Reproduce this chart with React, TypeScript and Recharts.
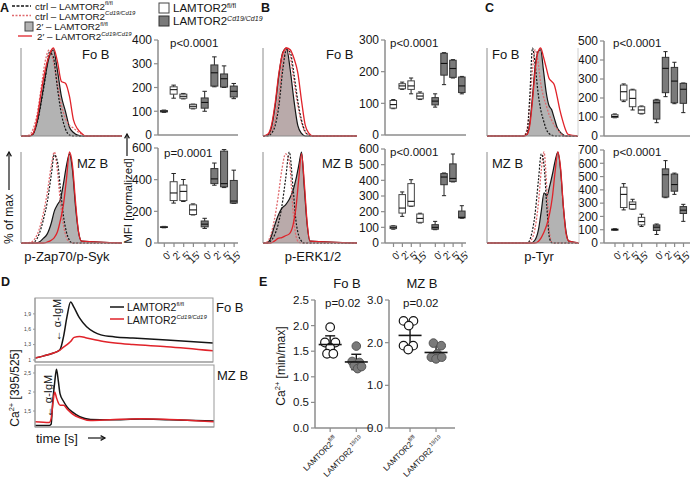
import React from 'react';
import {
  ComposedChart, LineChart, ScatterChart, Line, Area, Bar, Scatter, ErrorBar, XAxis, YAxis,
} from 'recharts';

const FONT = '"Liberation Sans", Arial, Helvetica, sans-serif';
const INK = '#151515';
const RED = '#e0232a';
const RED_DOT = '#e06a6e';
const AXIS = '#8c8c8c';
const GRAY_FILL = '#b3b3b3';
const PINK_FILL = '#b9aaaa';
const KO_FILL = '#7a7a7a';

// ---------------- Histograms (x: % of plot width, y: % of max) ----------------
const histXTicks = [0, 10, 20, 30, 40, 50, 60, 70, 80, 90, 100];
const histYTicks = [0, 20, 40, 60, 80, 100];

const hAFoX = [0, 8, 12, 16, 20, 24, 28, 32, 36, 40, 44, 48, 52, 56, 60, 64, 100];
const hAFoCtrlWT = [0, 0, 3, 15, 38, 65, 95, 90, 55, 25, 8, 1, 0, 0, 0, 0, 0];
const hAFoCtrlKO = [0, 1, 8, 25, 55, 85, 98, 85, 60, 35, 20, 12, 9, 5, 2, 0, 0];
const hAFoWT2 = [0, 0, 2, 16, 40, 68, 90, 98, 75, 45, 28, 10, 4, 1, 0, 0, 0];
const hAFoKO2 = [0, 0, 3, 20, 50, 75, 92, 100, 85, 62, 60, 45, 18, 8, 3, 0, 0];

const hAMzX = [0, 10, 14, 18, 22, 26, 30, 33, 36, 39, 42, 45, 48, 51, 54, 57, 60, 100];
const hAMzCtrlWT = [0, 0, 2, 10, 25, 45, 75, 97, 90, 60, 30, 12, 3, 0, 0, 0, 0, 0];
const hAMzCtrlKO = [0, 1, 5, 15, 32, 55, 85, 100, 80, 45, 20, 6, 1, 0, 0, 0, 0, 0];
const hAMzWT2 = [0, 0, 0, 1, 5, 10, 22, 35, 42, 48, 65, 85, 98, 80, 40, 12, 2, 0];
const hAMzKO2 = [0, 0, 0, 0, 0, 1, 3, 6, 12, 25, 42, 70, 100, 85, 45, 12, 2, 0];

const hBFoX = [0, 5, 9, 13, 17, 21, 25, 29, 33, 37, 41, 45, 49, 53, 100];
const hBFoCtrlWT = [0, 0, 3, 12, 35, 75, 98, 95, 70, 40, 18, 5, 1, 0, 0];
const hBFoCtrlKO = [0, 1, 5, 18, 45, 82, 100, 90, 62, 35, 15, 4, 1, 0, 0];
const hBFoWT2 = [0, 1, 10, 35, 70, 95, 100, 75, 40, 12, 3, 0, 0, 0, 0];
const hBFoKO2 = [0, 2, 12, 38, 72, 94, 100, 98, 88, 72, 40, 12, 3, 0, 0];

const hBMzX = [0, 4, 8, 12, 16, 20, 24, 28, 32, 35, 38, 41, 44, 47, 50, 100];
const hBMzCtrlWT = [0, 0, 2, 8, 20, 40, 70, 100, 60, 25, 8, 2, 0, 0, 0, 0];
const hBMzCtrlKO = [0, 1, 8, 25, 50, 80, 98, 90, 35, 8, 1, 0, 0, 0, 0, 0];
const hBMzWT2 = [0, 0, 5, 18, 30, 38, 42, 48, 58, 70, 85, 100, 60, 20, 2, 0];
const hBMzKO2 = [0, 0, 0, 2, 5, 6, 8, 10, 20, 38, 70, 98, 65, 22, 2, 0];

const hCFoX = [0, 40, 44, 47, 50, 53, 56, 59, 62, 65, 68, 71, 74, 77, 80, 83, 86, 89, 100];
const hCFoCtrlWT = [0, 0, 5, 45, 100, 80, 50, 30, 18, 8, 3, 1, 0, 0, 0, 0, 0, 0, 0];
const hCFoCtrlKO = [0, 0, 8, 35, 75, 98, 85, 60, 45, 35, 25, 18, 12, 8, 4, 1, 0, 0, 0];
const hCFoWT2 = [0, 0, 2, 15, 45, 80, 96, 98, 75, 50, 35, 30, 20, 10, 5, 2, 0, 0, 0];
const hCFoKO2 = [0, 0, 2, 12, 40, 75, 95, 100, 90, 78, 66, 62, 58, 45, 30, 18, 8, 2, 0];

const hCMzX = [0, 44, 48, 52, 56, 59, 62, 65, 68, 71, 74, 77, 80, 83, 86, 89, 100];
const hCMzCtrlWT = [0, 0, 8, 30, 70, 98, 85, 40, 5, 0, 0, 0, 0, 0, 0, 0, 0];
const hCMzCtrlKO = [0, 0, 3, 15, 45, 80, 100, 60, 10, 0, 0, 0, 0, 0, 0, 0, 0];
const hCMzWT2 = [0, 0, 0, 3, 15, 35, 55, 52, 62, 75, 90, 100, 80, 40, 12, 2, 0];
const hCMzKO2 = [0, 0, 0, 0, 2, 6, 12, 20, 32, 50, 78, 100, 82, 40, 10, 2, 0];

// ---------------- Box plots ----------------
const timeLabels = ["0'", "2'", "5'", "15'", "0'", "2'", "5'", "15'"];
const boxPosA = [0, 1, 2, 3, 4.2, 5.2, 6.2, 7.2];
const boxPosBC = [0, 1, 2, 3, 4.7, 5.7, 6.7, 7.7];

const aFoMin = [95, 155, 152, 110, 100, 203, 200, 153];
const aFoQ1 = [97, 172, 155, 113, 113, 206, 202, 160];
const aFoMed = [100, 191, 163, 121, 137, 262, 237, 184];
const aFoQ3 = [103, 203, 172, 129, 156, 295, 257, 206];
const aFoMax = [105, 210, 175, 130, 184, 329, 291, 217];

const aMzMin = [96, 252, 262, 177, 92, 365, 350, 250];
const aMzQ1 = [98, 268, 268, 180, 102, 375, 355, 252];
const aMzMed = [100, 316, 326, 209, 119, 405, 375, 265];
const aMzQ3 = [103, 387, 366, 241, 139, 470, 580, 395];
const aMzMax = [105, 439, 401, 247, 156, 505, 590, 460];

const bFoMin = [83, 144, 130, 112, 88, 159, 180, 130];
const bFoQ1 = [85, 146, 144, 114, 95, 189, 182, 134];
const bFoMed = [96, 155, 155, 123, 107, 226, 210, 155];
const bFoQ3 = [109, 162, 171, 132, 118, 258, 236, 183];
const bFoMax = [112, 167, 180, 136, 130, 260, 238, 185];

const bMzMin = [88, 170, 234, 128, 85, 302, 390, 158];
const bMzQ1 = [92, 191, 236, 132, 88, 372, 392, 160];
const bMzMed = [100, 223, 266, 157, 100, 421, 412, 164];
const bMzQ3 = [108, 309, 379, 185, 117, 443, 505, 204];
const bMzMax = [110, 326, 404, 190, 138, 447, 568, 238];

const cFoMin = [96, 181, 137, 116, 70, 207, 170, 123];
const cFoQ1 = [98, 189, 154, 119, 89, 228, 175, 172];
const cFoMed = [103, 233, 198, 137, 175, 356, 289, 246];
const cFoQ3 = [112, 268, 242, 154, 189, 414, 361, 277];
const cFoMax = [116, 274, 246, 158, 193, 444, 388, 279];

const cMzMin = [94, 249, 254, 124, 64, 341, 366, 163];
const cMzQ1 = [96, 267, 256, 136, 94, 346, 390, 222];
const cMzMed = [101, 366, 291, 161, 119, 514, 440, 247];
const cMzQ3 = [105, 420, 309, 193, 136, 558, 519, 274];
const cMzMax = [108, 447, 329, 217, 143, 620, 526, 291];

// ---------------- Ca traces (D) ----------------
const caXTicks = [0, 5.6, 11.1, 16.7, 22.2, 27.8, 33.3, 38.9, 44.4, 50, 55.6, 61.1, 66.7, 72.2, 77.8, 83.3, 88.9, 94.4, 100];
const caFoT = [0, 5, 10, 14, 16, 18, 20, 22, 25, 29, 33, 37, 45, 55, 74, 100];
const caFoWT = [1.04, 1.08, 1.13, 1.2, 1.45, 1.85, 2.13, 2.02, 1.82, 1.65, 1.55, 1.49, 1.45, 1.43, 1.39, 1.33];
const caFoKO = [1.04, 1.08, 1.13, 1.19, 1.25, 1.3, 1.36, 1.44, 1.46, 1.43, 1.4, 1.37, 1.33, 1.3, 1.26, 1.18];
const caFoTicks = [1, 1.3, 1.6, 1.9];

const caMzT = [0, 8, 9, 10, 11, 12, 13, 14, 16, 18, 21, 25, 31, 42, 59, 75, 100];
const caMzWT = [1.12, 1.12, 1.15, 1.8, 2.25, 2.6, 2.3, 1.95, 1.75, 1.6, 1.47, 1.35, 1.28, 1.27, 1.29, 1.27, 1.24];
const caMzKO = [1.22, 1.2, 1.3, 1.7, 2.0, 1.85, 1.72, 1.65, 1.65, 1.55, 1.42, 1.32, 1.25, 1.27, 1.3, 1.28, 1.22];
const caMzTicks = [1.5, 2, 2.5];

// ---------------- Ca min/max (E) ----------------
const eFoWTy = [1.97, 1.67, 1.67, 1.57, 1.45, 1.45];
const eFoWTx = [1.0, 0.8, 1.2, 1.0, 0.88, 1.12];
const eFoKOy = [1.6, 1.3, 1.28, 1.22, 1.16, 1.2];
const eFoKOx = [2.0, 1.84, 2.12, 1.92, 2.05, 2.2];
const eFoMean = [1.63, 1.29];
const eFoErr = [0.17, 0.15];
const eFoTicks = [0, 0.5, 1, 1.5, 2, 2.5];

const eMzWTy = [2.51, 2.51, 2.4, 1.93, 1.93, 1.84];
const eMzWTx = [0.75, 1.13, 0.95, 0.75, 1.12, 0.93];
const eMzKOy = [1.99, 1.93, 1.74, 1.66, 1.62, 1.66];
const eMzKOx = [1.9, 2.2, 2.05, 1.82, 2.0, 2.22];
const eMzMean = [2.17, 1.77];
const eMzErr = [0.3, 0.16];
const eMzTicks = [0, 1, 2, 3];

// ======================================================================
type Rect = { l: number; t: number; r: number; b: number };

function Histogram(props: {
  rect: Rect; xs: number[]; cw: number[]; ck: number[]; w2: number[]; k2: number[]; fill: string;
}) {
  const { rect, xs, cw, ck, w2, k2, fill } = props;
  const ml = 6, mt = 2, mr = 2, mb = 6;
  const W = rect.r - rect.l + ml + mr;
  const H = rect.b - rect.t + mt + mb;
  const data = xs.map((x, i) => ({ x, cw: cw[i], ck: ck[i], w2: w2[i], k2: k2[i] }));
  return (
    <div style={{ position: 'absolute', left: rect.l - ml, top: rect.t - mt }}>
      <ComposedChart width={W} height={H} data={data} margin={{ top: mt, right: mr, bottom: 0, left: 0 }}>
        <XAxis dataKey="x" type="number" domain={[0, 100]} ticks={histXTicks} tick={false} tickSize={3}
          height={mb} axisLine={{ stroke: AXIS }} tickLine={{ stroke: AXIS }} interval={0} />
        <YAxis type="number" domain={[0, 100]} ticks={histYTicks} tick={false} tickSize={3} width={ml}
          axisLine={{ stroke: AXIS }} tickLine={{ stroke: AXIS }} interval={0} />
        <Area type="monotone" dataKey="w2" stroke={INK} strokeWidth={1.2} fill={fill} fillOpacity={1}
          dot={false} activeDot={false} isAnimationActive={false} />
        <Line type="monotone" dataKey="ck" stroke={RED_DOT} strokeWidth={1.3} strokeDasharray="2 1.5"
          dot={false} activeDot={false} isAnimationActive={false} />
        <Line type="monotone" dataKey="cw" stroke={INK} strokeWidth={1.2} strokeDasharray="2 1.5"
          dot={false} activeDot={false} isAnimationActive={false} />
        <Line type="monotone" dataKey="k2" stroke={RED} strokeWidth={1.3}
          dot={false} activeDot={false} isAnimationActive={false} />
      </ComposedChart>
    </div>
  );
}

const BoxShape = (props: any) => {
  const { x, y, width, height, payload } = props;
  if (!payload || x == null) return null;
  const top = Math.min(y, y + height);
  const h = Math.abs(height);
  const { mn, q1, md, q3, mx, ko } = payload;
  const py = (v: number) => top + ((mx - v) / (mx - mn)) * h;
  const cx = x + width / 2;
  const hw = width / 2;
  const cap = width * 0.32;
  return (
    <g>
      <line x1={cx} x2={cx} y1={py(mx)} y2={py(mn)} stroke="#222" strokeWidth={1} />
      <line x1={cx - cap} x2={cx + cap} y1={py(mx)} y2={py(mx)} stroke="#222" strokeWidth={1} />
      <line x1={cx - cap} x2={cx + cap} y1={py(mn)} y2={py(mn)} stroke="#222" strokeWidth={1} />
      <rect x={cx - hw} y={py(q3)} width={width} height={Math.max(0.5, py(q1) - py(q3))}
        fill={ko ? KO_FILL : '#ffffff'} stroke={ko ? '#333' : '#444'} strokeWidth={1} />
      <line x1={cx - hw} x2={cx + hw} y1={py(md)} y2={py(md)} stroke="#111" strokeWidth={1.1} />
    </g>
  );
};

function makeTimeTick(pos: number[]) {
  return (p: any) => {
    const { x, y, payload } = p;
    const i = pos.indexOf(payload.value);
    return (
      <text transform={`translate(${x + 3},${y + 1}) rotate(-45)`} textAnchor="end" dominantBaseline="hanging"
        fontSize={10} fontFamily={FONT} fill={INK}>{timeLabels[i] ?? ''}</text>
    );
  };
}

function BoxPlot(props: {
  rect: Rect; pos: number[]; xDomain: [number, number]; mins: number[]; q1s: number[]; meds: number[];
  q3s: number[]; maxs: number[]; yMax: number; yTicks: number[]; labels: boolean; bw: number; mr?: number;
}) {
  const { rect, pos, xDomain, mins, q1s, meds, q3s, maxs, yMax, yTicks, labels, bw } = props;
  const ml = 30, mt = 7, mr = props.mr ?? 10, mb = labels ? 34 : 8;
  const W = rect.r - rect.l + ml + mr;
  const H = rect.b - rect.t + mt + mb;
  const data = pos.map((x, i) => ({
    x, range: [mins[i], maxs[i]], mn: mins[i], q1: q1s[i], md: meds[i], q3: q3s[i], mx: maxs[i], ko: i >= 4,
  }));
  return (
    <div style={{ position: 'absolute', left: rect.l - ml, top: rect.t - mt }}>
      <ComposedChart width={W} height={H} data={data} margin={{ top: mt, right: mr, bottom: 0, left: 0 }}
        style={{ overflow: 'visible' }}>
        <XAxis dataKey="x" type="number" domain={xDomain} ticks={pos} interval={0} allowDataOverflow
          tick={labels ? makeTimeTick(pos) : false} tickSize={4} height={mb}
          axisLine={{ stroke: AXIS, strokeWidth: 1.5 }} tickLine={{ stroke: AXIS, strokeWidth: 1.2 }} />
        <YAxis type="number" domain={[0, yMax]} ticks={yTicks} interval={0} width={ml} tickSize={4}
          tick={{ fontSize: 12, fill: INK, fontFamily: FONT }}
          axisLine={{ stroke: AXIS, strokeWidth: 1.5 }} tickLine={{ stroke: AXIS, strokeWidth: 1.2 }} />
        <Bar dataKey="range" barSize={bw} shape={BoxShape} isAnimationActive={false} />
      </ComposedChart>
    </div>
  );
}

function CaTrace(props: {
  rect: Rect; t: number[]; wt: number[]; ko: number[]; yDomain: [number, number]; yTicks: number[];
}) {
  const { rect, t, wt, ko, yDomain, yTicks } = props;
  const ml = 14, mb = 4;
  const W = rect.r - rect.l + ml;
  const H = rect.b - rect.t + mb;
  const data = t.map((v, i) => ({ t: v, wt: wt[i], ko: ko[i] }));
  return (
    <div style={{ position: 'absolute', left: rect.l - ml, top: rect.t }}>
      <LineChart width={W} height={H} data={data} margin={{ top: 0, right: 0, bottom: 0, left: 0 }}>
        <XAxis dataKey="t" type="number" domain={[0, 100]} ticks={caXTicks} interval={0} tick={false}
          tickSize={2.5} height={mb} axisLine={{ stroke: '#999' }} tickLine={{ stroke: '#999' }} />
        <YAxis type="number" domain={yDomain} ticks={yTicks} interval={0} width={ml} tickSize={2}
          tickFormatter={(v: number) => String(v).replace('.', ',')}
          tick={{ fontSize: 5, fill: '#444', fontFamily: FONT }}
          axisLine={{ stroke: '#999' }} tickLine={{ stroke: '#999' }} />
        <Line type="monotone" dataKey="wt" stroke={INK} strokeWidth={1.5} dot={false} activeDot={false} isAnimationActive={false} />
        <Line type="monotone" dataKey="ko" stroke={RED} strokeWidth={1.5} dot={false} activeDot={false} isAnimationActive={false} />
      </LineChart>
    </div>
  );
}

const OpenDot = (p: any) => <circle cx={p.cx} cy={p.cy} r={4.3} fill="#fff" stroke={INK} strokeWidth={1.2} />;
const FillDot = (p: any) => <circle cx={p.cx} cy={p.cy} r={4.3} fill={KO_FILL} stroke="#555" strokeWidth={1} />;
const MeanBar = (p: any) => <line x1={p.cx - 11.5} x2={p.cx + 11.5} y1={p.cy} y2={p.cy} stroke={INK} strokeWidth={1.6} />;

const GenoTick = (p: any) => {
  const { x, y, payload } = p;
  const wt = payload.value === 1;
  return (
    <text transform={`translate(${x + 4},${y + 2}) rotate(-45)`} textAnchor="end" dominantBaseline="hanging"
      fontSize={8} fontFamily={FONT} fill={INK}>
      LAMTOR2<tspan dy={-2.5} fontSize={5.5}>{wt ? 'fl/fl' : ' 19/19'}</tspan>
    </text>
  );
};

function DotPlot(props: {
  rect: Rect; xDomain: [number, number]; yMax: number; yTicks: number[];
  wtX: number[]; wtY: number[]; koX: number[]; koY: number[]; means: number[]; errs: number[];
}) {
  const { rect, xDomain, yMax, yTicks, wtX, wtY, koX, koY, means, errs } = props;
  const ml = 26, mt = 6, mr = 2, mb = 50;
  const W = rect.r - rect.l + ml + mr;
  const H = rect.b - rect.t + mt + mb;
  const wtData = wtY.map((y, i) => ({ x: wtX[i], y }));
  const koData = koY.map((y, i) => ({ x: koX[i], y }));
  const meanData = means.map((y, i) => ({ x: i + 1, y, err: errs[i] }));
  return (
    <div style={{ position: 'absolute', left: rect.l - ml, top: rect.t - mt }}>
      <ScatterChart width={W} height={H} margin={{ top: mt, right: mr, bottom: 0, left: 0 }}>
        <XAxis dataKey="x" type="number" domain={xDomain} ticks={[1, 2]} interval={0} allowDataOverflow
          tick={GenoTick} tickSize={4} height={mb}
          axisLine={{ stroke: AXIS, strokeWidth: 1.5 }} tickLine={{ stroke: AXIS, strokeWidth: 1.2 }} />
        <YAxis dataKey="y" type="number" domain={[0, yMax]} ticks={yTicks} interval={0} width={ml} tickSize={4}
          tickFormatter={(v: number) => v.toFixed(1)}
          tick={{ fontSize: 11.5, fill: INK, fontFamily: FONT }}
          axisLine={{ stroke: AXIS, strokeWidth: 1.5 }} tickLine={{ stroke: AXIS, strokeWidth: 1.2 }} />
        <Scatter data={wtData} shape={OpenDot} isAnimationActive={false} />
        <Scatter data={koData} shape={FillDot} isAnimationActive={false} />
        <Scatter data={meanData} shape={MeanBar} isAnimationActive={false}>
          <ErrorBar dataKey="err" direction="y" width={5} stroke={INK} strokeWidth={1.4} />
        </Scatter>
      </ScatterChart>
    </div>
  );
}

// ---------------- overlay helpers ----------------
const T = (p: {
  x: number; y: number; size?: number; anchor?: 'start' | 'middle' | 'end'; bold?: boolean; rot?: number;
  children: React.ReactNode;
}) => (
  <text x={p.x} y={p.y} fontSize={p.size ?? 12} fontFamily={FONT} fontWeight={p.bold ? 700 : 400}
    textAnchor={p.anchor ?? 'start'} dominantBaseline="central" fill={INK}
    transform={p.rot ? `rotate(${p.rot} ${p.x} ${p.y})` : undefined}>{p.children}</text>
);

const Arrow = ({ x1, y1, x2, y2 }: { x1: number; y1: number; x2: number; y2: number }) => {
  const a = Math.atan2(y2 - y1, x2 - x1);
  const L = 5;
  const p1 = `${x2 - L * Math.cos(a - 0.5)},${y2 - L * Math.sin(a - 0.5)}`;
  const p2 = `${x2 - L * Math.cos(a + 0.5)},${y2 - L * Math.sin(a + 0.5)}`;
  return (
    <g stroke={INK} strokeWidth={1.2} fill="none">
      <line x1={x1} y1={y1} x2={x2} y2={y2} />
      <polyline points={`${p1} ${x2},${y2} ${p2}`} />
    </g>
  );
};

function Overlay() {
  return (
    <svg width={692} height={479} style={{ position: 'absolute', left: 0, top: 0, pointerEvents: 'none' }}>
      {/* panel letters */}
      <T x={0} y={8} size={12.5} bold>A</T>
      <T x={261} y={8} size={12.5} bold>B</T>
      <T x={485} y={8} size={12.5} bold>C</T>
      <T x={1} y={282} size={12.5} bold>D</T>
      <T x={259} y={282} size={12.5} bold>E</T>

      {/* histogram legend */}
      <line x1={12} x2={31} y1={6} y2={6} stroke={INK} strokeWidth={1.3} strokeDasharray="3 1.5" />
      <T x={35} y={6} size={9.8}>ctrl – LAMTOR2<tspan dy={-3} fontSize={6}>fl/fl</tspan></T>
      <line x1={12} x2={31} y1={15.5} y2={15.5} stroke={RED_DOT} strokeWidth={1.3} strokeDasharray="2 1.5" />
      <T x={35} y={16} size={9.8}>ctrl – LAMTOR2<tspan dy={-3} fontSize={6} fontStyle="italic">Cd19/Cd19</tspan></T>
      <rect x={25} y={22} width={8} height={9} fill={GRAY_FILL} stroke="#444" strokeWidth={1} />
      <T x={36} y={26.5} size={9.8}>2′ – LAMTOR2<tspan dy={-3} fontSize={6}>fl/fl</tspan></T>
      <line x1={18} x2={32} y1={36} y2={36} stroke={RED} strokeWidth={1.3} />
      <T x={37} y={36.5} size={9.8}>2′ – LAMTOR2<tspan dy={-3} fontSize={6} fontStyle="italic">Cd19/Cd19</tspan></T>

      {/* box legend */}
      <rect x={159} y={3} width={10} height={10} fill="#fff" stroke="#444" strokeWidth={1} />
      <T x={173} y={8} size={11.5}>LAMTOR2<tspan dy={-3.5} fontSize={7}>fl/fl</tspan></T>
      <rect x={159} y={16} width={10} height={10} fill={KO_FILL} stroke="#333" strokeWidth={1} />
      <T x={173} y={21} size={11.5}>LAMTOR2<tspan dy={-3.5} fontSize={7} fontStyle="italic">Cd19/Cd19</tspan></T>

      {/* histogram labels */}
      <T x={82} y={54} size={13}>Fo B</T>
      <T x={77} y={163} size={13}>MZ B</T>
      <T x={326} y={54} size={13}>Fo B</T>
      <T x={322} y={163} size={13}>MZ B</T>
      <T x={492} y={54} size={13}>Fo B</T>
      <T x={492} y={163} size={13}>MZ B</T>
      <T x={67} y={256} size={13} anchor="middle">p-Zap70/p-Syk</T>
      <T x={313} y={256} size={13} anchor="middle">p-ERK1/2</T>
      <T x={539} y={256} size={13} anchor="middle">p-Tyr</T>
      <line x1={578} x2={578} y1={48} y2={136} stroke="#d0d0d0" strokeWidth={1} />
      <line x1={579} x2={579} y1={152} y2={243} stroke="#d0d0d0" strokeWidth={1} />

      {/* y labels A */}
      <T x={9} y={219} size={12} anchor="middle" rot={-90}>% of max</T>
      <Arrow x1={9} y1={190} x2={9} y2={152} />
      <T x={128} y={201} size={11.5} anchor="middle" rot={-90}>MFI [normalized]</T>
      <Arrow x1={127} y1={156} x2={127} y2={134} />

      {/* p-values */}
      <T x={170} y={43} size={11.5}>p&lt;0.0001</T>
      <T x={164} y={153} size={11.5}>p=0.0001</T>
      <T x={390} y={43} size={11.5}>p&lt;0.0001</T>
      <T x={390} y={152} size={11.5}>p&lt;0.0001</T>
      <T x={613} y={43} size={11.5}>p&lt;0.0001</T>
      <T x={613} y={152} size={11.5}>p&lt;0.0001</T>

      {/* D */}
      <rect x={35} y={298} width={178} height={64} fill="none" stroke="#999" strokeWidth={1} />
      <rect x={35} y={365} width={179} height={62} fill="none" stroke="#999" strokeWidth={1} />
      <line x1={110} x2={124} y1={307} y2={307} stroke={INK} strokeWidth={1.5} />
      <T x={127} y={307} size={10.5}>LAMTOR2<tspan dy={-3} fontSize={6}>fl/fl</tspan></T>
      <line x1={110} x2={124} y1={319} y2={319} stroke={RED} strokeWidth={1.5} />
      <T x={127} y={319.5} size={10.5}>LAMTOR2<tspan dy={-3} fontSize={6} fontStyle="italic">Cd19/Cd19</tspan></T>
      <T x={216} y={307} size={13}>Fo B</T>
      <T x={217} y={375} size={13}>MZ B</T>
      <T x={57} y={320} size={11} anchor="middle" rot={-90}>← α-IgM</T>
      <T x={48} y={396} size={11} anchor="middle" rot={-90}>← α-IgM</T>
      <T x={15} y={388} size={12} anchor="middle" rot={-90}>
        Ca<tspan dy={-4} fontSize={7.5}>2+</tspan><tspan dy={4}> [395/525]</tspan>
      </T>
      <T x={36} y={438} size={13}>time [s]</T>
      <Arrow x1={88} y1={438} x2={105} y2={438} />

      {/* E */}
      <T x={347} y={283} size={13} anchor="middle">Fo B</T>
      <T x={422} y={283} size={13} anchor="middle">MZ B</T>
      <T x={325} y={303} size={11.5}>p=0.02</T>
      <T x={403} y={303} size={11.5}>p=0.02</T>
      <T x={281} y={366} size={12} anchor="middle" rot={-90}>
        Ca<tspan dy={-4} fontSize={7.5}>2+</tspan><tspan dy={4}> [min/max]</tspan>
      </T>
    </svg>
  );
}

export default function App() {
  return (
    <div style={{ position: 'absolute', left: 0, top: 0, width: 692, height: 479, overflow: 'hidden', background: '#fff', fontFamily: FONT }}>
      <Histogram rect={{ l: 21, t: 48, r: 122, b: 136 }} xs={hAFoX} cw={hAFoCtrlWT} ck={hAFoCtrlKO} w2={hAFoWT2} k2={hAFoKO2} fill={GRAY_FILL} />
      <Histogram rect={{ l: 21, t: 152, r: 122, b: 243 }} xs={hAMzX} cw={hAMzCtrlWT} ck={hAMzCtrlKO} w2={hAMzWT2} k2={hAMzKO2} fill={GRAY_FILL} />
      <Histogram rect={{ l: 263, t: 48, r: 357, b: 136 }} xs={hBFoX} cw={hBFoCtrlWT} ck={hBFoCtrlKO} w2={hBFoWT2} k2={hBFoKO2} fill={PINK_FILL} />
      <Histogram rect={{ l: 263, t: 152, r: 357, b: 243 }} xs={hBMzX} cw={hBMzCtrlWT} ck={hBMzCtrlKO} w2={hBMzWT2} k2={hBMzKO2} fill={PINK_FILL} />
      <Histogram rect={{ l: 487, t: 48, r: 578, b: 136 }} xs={hCFoX} cw={hCFoCtrlWT} ck={hCFoCtrlKO} w2={hCFoWT2} k2={hCFoKO2} fill={GRAY_FILL} />
      <Histogram rect={{ l: 487, t: 152, r: 579, b: 243 }} xs={hCMzX} cw={hCMzCtrlWT} ck={hCMzCtrlKO} w2={hCMzWT2} k2={hCMzKO2} fill={GRAY_FILL} />

      <BoxPlot rect={{ l: 158, t: 40, r: 238, b: 135 }} pos={boxPosA} xDomain={[-0.65, 7.6]} mins={aFoMin} q1s={aFoQ1} meds={aFoMed} q3s={aFoQ3} maxs={aFoMax} yMax={400} yTicks={[0, 100, 200, 300, 400]} labels={false} bw={7} />
      <BoxPlot rect={{ l: 158, t: 148, r: 238, b: 243 }} pos={boxPosA} xDomain={[-0.65, 7.6]} mins={aMzMin} q1s={aMzQ1} meds={aMzMed} q3s={aMzQ3} maxs={aMzMax} yMax={600} yTicks={[0, 200, 400, 600]} labels bw={7} />
      <BoxPlot rect={{ l: 385, t: 40, r: 466, b: 135 }} pos={boxPosBC} xDomain={[-0.955, 8.146]} mins={bFoMin} q1s={bFoQ1} meds={bFoMed} q3s={bFoQ3} maxs={bFoMax} yMax={300} yTicks={[0, 100, 200, 300]} labels={false} bw={6.5} />
      <BoxPlot rect={{ l: 385, t: 149, r: 466, b: 243 }} pos={boxPosBC} xDomain={[-0.955, 8.146]} mins={bMzMin} q1s={bMzQ1} meds={bMzMed} q3s={bMzQ3} maxs={bMzMax} yMax={600} yTicks={[0, 100, 200, 300, 400, 500, 600]} labels bw={6.5} />
      <BoxPlot rect={{ l: 604, t: 41, r: 690, b: 136 }} pos={boxPosBC} xDomain={[-1.236, 8.43]} mins={cFoMin} q1s={cFoQ1} meds={cFoMed} q3s={cFoQ3} maxs={cFoMax} yMax={500} yTicks={[0, 100, 200, 300, 400, 500]} labels={false} bw={6.5} mr={2} />
      <BoxPlot rect={{ l: 604, t: 150, r: 690, b: 243 }} pos={boxPosBC} xDomain={[-1.236, 8.43]} mins={cMzMin} q1s={cMzQ1} meds={cMzMed} q3s={cMzQ3} maxs={cMzMax} yMax={700} yTicks={[0, 100, 200, 300, 400, 500, 600, 700]} labels bw={6.5} mr={2} />

      <CaTrace rect={{ l: 35, t: 298, r: 213, b: 362 }} t={caFoT} wt={caFoWT} ko={caFoKO} yDomain={[0.96, 2.21]} yTicks={caFoTicks} />
      <CaTrace rect={{ l: 35, t: 365, r: 214, b: 427 }} t={caMzT} wt={caMzWT} ko={caMzKO} yDomain={[1.08, 2.71]} yTicks={caMzTicks} />

      <DotPlot rect={{ l: 315, t: 300, r: 372, b: 428 }} xDomain={[0.42, 2.6]} yMax={2.5} yTicks={eFoTicks}
        wtX={eFoWTx} wtY={eFoWTy} koX={eFoKOx} koY={eFoKOy} means={eFoMean} errs={eFoErr} />
      <DotPlot rect={{ l: 389, t: 300, r: 455, b: 428 }} xDomain={[0.19, 2.73]} yMax={3} yTicks={eMzTicks}
        wtX={eMzWTx} wtY={eMzWTy} koX={eMzKOx} koY={eMzKOy} means={eMzMean} errs={eMzErr} />

      <Overlay />
    </div>
  );
}
